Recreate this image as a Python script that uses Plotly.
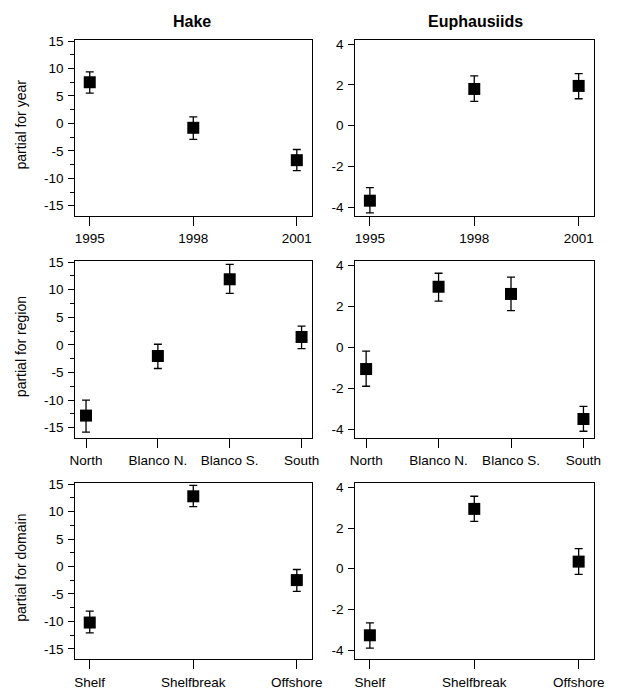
import plotly.graph_objects as go

W, H = 617, 694

# ---- data ----
years = ["1995", "1998", "2001"]
regions = ["North", "Blanco N.", "Blanco S.", "South"]
domains = ["Shelf", "Shelfbreak", "Offshore"]

hake_year = [7.5, -0.8, -6.7]
hake_year_hi = [9.4, 1.2, -4.75]
hake_year_lo = [5.5, -2.9, -8.6]

euph_year = [-3.69, 1.8, 1.95]
euph_year_hi = [-3.05, 2.44, 2.55]
euph_year_lo = [-4.29, 1.19, 1.32]

hake_region = [-12.8, -2.0, 11.9, 1.45]
hake_region_hi = [-10.0, 0.13, 14.6, 3.4]
hake_region_lo = [-15.8, -4.27, 9.35, -0.65]

euph_region = [-1.07, 2.95, 2.6, -3.51]
euph_region_hi = [-0.19, 3.61, 3.42, -2.89]
euph_region_lo = [-1.91, 2.25, 1.78, -4.11]

hake_domain = [-10.2, 12.8, -2.47]
hake_domain_hi = [-8.14, 14.8, -0.54]
hake_domain_lo = [-12.1, 10.9, -4.52]

euph_domain = [-3.27, 2.94, 0.35]
euph_domain_hi = [-2.66, 3.56, 0.99]
euph_domain_lo = [-3.9, 2.33, -0.28]

hake_yticks = [15, 10, 5, 0, -5, -10, -15]
euph_yticks = [4, 2, 0, -2, -4]
col_titles = ["Hake", "Euphausiids"]
row_titles = ["partial for year", "partial for region", "partial for domain"]

panels = [
    # row, col, cats, values, hi, lo
    (0, 0, years, hake_year, hake_year_hi, hake_year_lo),
    (0, 1, years, euph_year, euph_year_hi, euph_year_lo),
    (1, 0, regions, hake_region, hake_region_hi, hake_region_lo),
    (1, 1, regions, euph_region, euph_region_hi, euph_region_lo),
    (2, 0, domains, hake_domain, hake_domain_hi, hake_domain_lo),
    (2, 1, domains, euph_domain, euph_domain_hi, euph_domain_lo),
]

# ---- layout geometry (pixels) ----
col_px = [(72, 315), (359, 604)]
row_px = [(34, 212), (257, 436), (481, 659)]

FONT = "Liberation Sans, Arial, sans-serif"

fig = go.Figure()
layout = dict(
    width=W, height=H, margin=dict(l=0, r=0, t=0, b=0),
    paper_bgcolor="white", plot_bgcolor="white", showlegend=False,
    font=dict(family=FONT, size=13.5, color="black"),
)
annotations = []

for i, (r, c, cats, vals, hi, lo) in enumerate(panels):
    n = i + 1
    xs = list(range(len(cats)))
    xa = "x" if n == 1 else f"x{n}"
    ya = "y" if n == 1 else f"y{n}"
    fig.add_trace(go.Scatter(
        x=xs, y=vals, xaxis=xa, yaxis=ya, mode="markers",
        marker=dict(symbol="square", size=12, color="black"),
        error_y=dict(type="data", symmetric=False,
                     array=[h - v for h, v in zip(hi, vals)],
                     arrayminus=[v - l for l, v in zip(lo, vals)],
                     color="black", thickness=1.3, width=4),
        cliponaxis=False,
    ))
    x0, x1 = col_px[c]
    y0, y1 = row_px[r]
    nc = len(cats)
    if nc == 3:
        xr = [-0.14, 2.15]
    else:
        xr = [-0.15, 3.15]
    if c == 0:
        yr = [-16.9, 15.25]
        yt = hake_yticks
        minor = dict(dtick=2.5, tick0=0, ticks="outside", ticklen=4, tickcolor="black")
    else:
        yr = [-4.45, 4.22]
        yt = euph_yticks
        minor = None
    layout["xaxis" if n == 1 else f"xaxis{n}"] = dict(
        domain=[x0 / W, x1 / W], anchor=ya, range=xr,
        tickvals=xs, ticktext=cats, ticks="outside", ticklen=9,
        tickcolor="black", tickwidth=1, ticklabelstandoff=1,
        showline=True, mirror=True, linecolor="black", linewidth=1,
        showgrid=False, zeroline=False, tickfont=dict(size=13.5),
    )
    yax = dict(
        domain=[1 - y1 / H, 1 - y0 / H], anchor=xa, range=yr,
        tickvals=yt, ticktext=[str(v) for v in yt], ticks="outside", ticklen=6,
        tickcolor="black", tickwidth=1, ticklabelstandoff=2,
        showline=True, mirror=True, linecolor="black", linewidth=1,
        showgrid=False, zeroline=False, tickfont=dict(size=13.5),
    )
    if minor:
        yax["minor"] = minor
    layout["yaxis" if n == 1 else f"yaxis{n}"] = yax

    if c == 0:
        annotations.append(dict(
            text=row_titles[r], x=16 / W, y=1 - ((y0 + y1) / 2 - 3) / H,
            xref="paper", yref="paper", textangle=-90, showarrow=False,
            xanchor="center", yanchor="middle", font=dict(size=14)))

title_cx = [192, 482]
for c, t in enumerate(col_titles):
    annotations.append(dict(
        text=f"<b>{t}</b>", x=title_cx[c] / W, y=1 - 15.5 / H,
        xref="paper", yref="paper", showarrow=False,
        xanchor="center", yanchor="middle", font=dict(size=16)))

layout["annotations"] = annotations
fig.update_layout(**layout)
fig.write_html("out.html", config={"displayModeBar": False},
               post_script="document.body.style.margin='0px';document.body.style.overflow='hidden';")
